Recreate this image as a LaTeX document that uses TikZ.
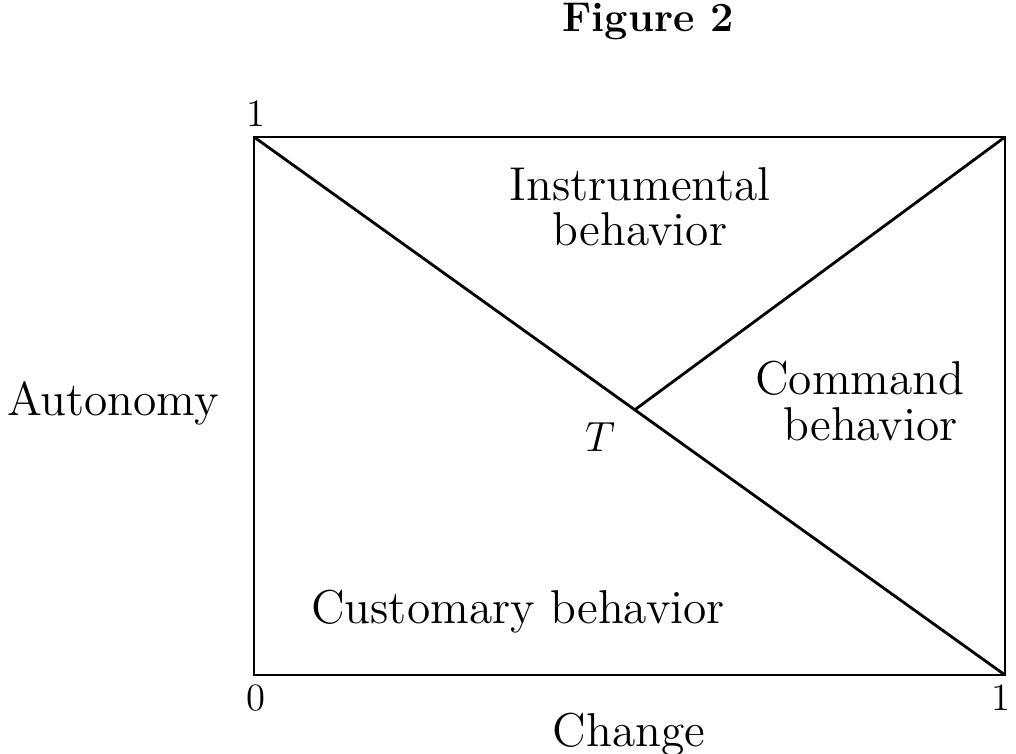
\documentclass[tikz,border=0pt]{standalone}
\usepackage{tikz}
\usetikzlibrary{calc,positioning}
\tikzset{lbl/.style={font=\fontsize{13.5}{16}\selectfont, inner sep=0pt, align=center},
	num/.style={font=\fontsize{11}{13}\selectfont, inner sep=0pt},
	edge/.style={line width=0.8pt}}

\begin{document}
\begin{tikzpicture}[x=0.01cm,y=-0.01cm]
	\useasboundingbox (0,0) rectangle (1016,753);
	\coordinate (ul) at (254,137);
	\coordinate (ur) at (1005,137);
	\coordinate (lr) at (1005,675);
	\coordinate (ll) at (254,675);
	\coordinate (T) at ($(ul)!0.507!(lr)$);
	\draw[edge] (ll) -- (lr) -- (ur) -- (ul) -- cycle;
	\draw[edge] (ul) -- (lr);
	\draw[edge] (T) -- (ur);
	\node[lbl,font=\fontsize{11.8}{14}\selectfont\bfseries] (title) at (648,22) {Figure 2};
	\node[num] (one y) at (256,114) {1};
	\node[num] (zero) at (256,698) {0};
	\node[num] (one x) at (1001,698) {1};
	\node[lbl] (change) at (629,735) {Change};
	\node[lbl] (autonomy) at (113,403) {Autonomy};
	\node[num,font=\fontsize{12}{14}\selectfont] (tlabel) at (600,437) {$T$};
	\node[lbl] (instr) at (640,184) {Instrumental};
	\node[lbl,below=3pt of instr] (instr b) {behavior};
	\node[lbl] (command) at (860,378) {Command};
	\node[lbl,below=3pt of command.south,xshift=3pt,anchor=north] (command b) {behavior};
	\node[lbl] (custom) at (518,612) {Customary behavior};
\end{tikzpicture}
\end{document}
